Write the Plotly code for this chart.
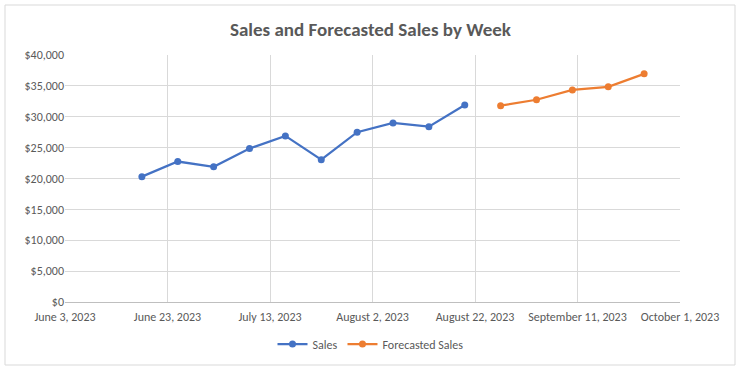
import plotly.graph_objects as go

sales_dates = ["2023-06-18", "2023-06-25", "2023-07-02", "2023-07-09", "2023-07-16",
               "2023-07-23", "2023-07-30", "2023-08-06", "2023-08-13", "2023-08-20"]
sales_values = [20300, 22750, 21900, 24850, 26900, 23050, 27500, 29000, 28400, 31900]

forecast_dates = ["2023-08-27", "2023-09-03", "2023-09-10", "2023-09-17", "2023-09-24"]
forecast_values = [31800, 32750, 34350, 34850, 36950]

x_range = ["2023-06-03", "2023-10-01"]
y_ticks = [0, 5000, 10000, 15000, 20000, 25000, 30000, 35000, 40000]

W, H = 741, 373
L, R, T, B = 65, 61, 55, 71
pw, ph = W - L - R, H - T - B

FONT = "Calibri, Carlito, Lato, 'Liberation Sans', sans-serif"
GRAY = "#595959"

fig = go.Figure()
fig.add_trace(go.Scatter(
    x=sales_dates, y=sales_values, name="Sales", mode="lines+markers",
    line=dict(color="#4472C4", width=2.25), marker=dict(size=7, color="#4472C4")))
fig.add_trace(go.Scatter(
    x=forecast_dates, y=forecast_values, name="Forecasted Sales", mode="lines+markers",
    line=dict(color="#ED7D31", width=2.25), marker=dict(size=7, color="#ED7D31")))


def px_x(p):
    return (p - L) / pw


def px_y(p):
    return (H - B - p) / ph


fig.update_layout(
    width=W, height=H,
    margin=dict(l=L, r=R, t=T, b=B, autoexpand=False),
    paper_bgcolor="white", plot_bgcolor="white",
    font=dict(family=FONT, color=GRAY, size=12),
    title=dict(text="<b>Sales and Forecasted Sales by Week</b>", x=0.5, xanchor="center",
               y=1 - 29 / H, yanchor="middle", font=dict(size=19, color=GRAY, family=FONT)),
    showlegend=True,
    legend=dict(orientation="h", x=px_x(W / 2), xanchor="center", y=px_y(344), yanchor="middle",
                font=dict(size=12, color=GRAY), bgcolor="rgba(0,0,0,0)"),
    xaxis=dict(type="date", range=x_range, tick0=x_range[0], dtick=20 * 86400000,
               tickformat="%B %-d, %Y", showgrid=True, gridcolor="#D9D9D9", gridwidth=1,
               showline=True, linecolor="#BFBFBF", linewidth=1, ticks="",
               tickfont=dict(size=12, color=GRAY), zeroline=False, ticklabelstandoff=4),
    yaxis=dict(range=[0, 40000], tickvals=y_ticks, tickformat="$,.0f",
               showgrid=True, gridcolor="#D9D9D9", gridwidth=1, showline=False,
               zeroline=False, ticks="", tickfont=dict(size=12, color=GRAY)),
    shapes=[dict(type="rect", xref="paper", yref="paper",
                 x0=px_x(5), x1=px_x(735), y0=px_y(365), y1=px_y(5),
                 line=dict(color="#D9D9D9", width=1), fillcolor="rgba(0,0,0,0)", layer="below")],
)

fig.write_html("out.html", config={"displayModeBar": False},
               post_script="document.body.style.margin='0px';document.body.style.overflow='hidden';")
